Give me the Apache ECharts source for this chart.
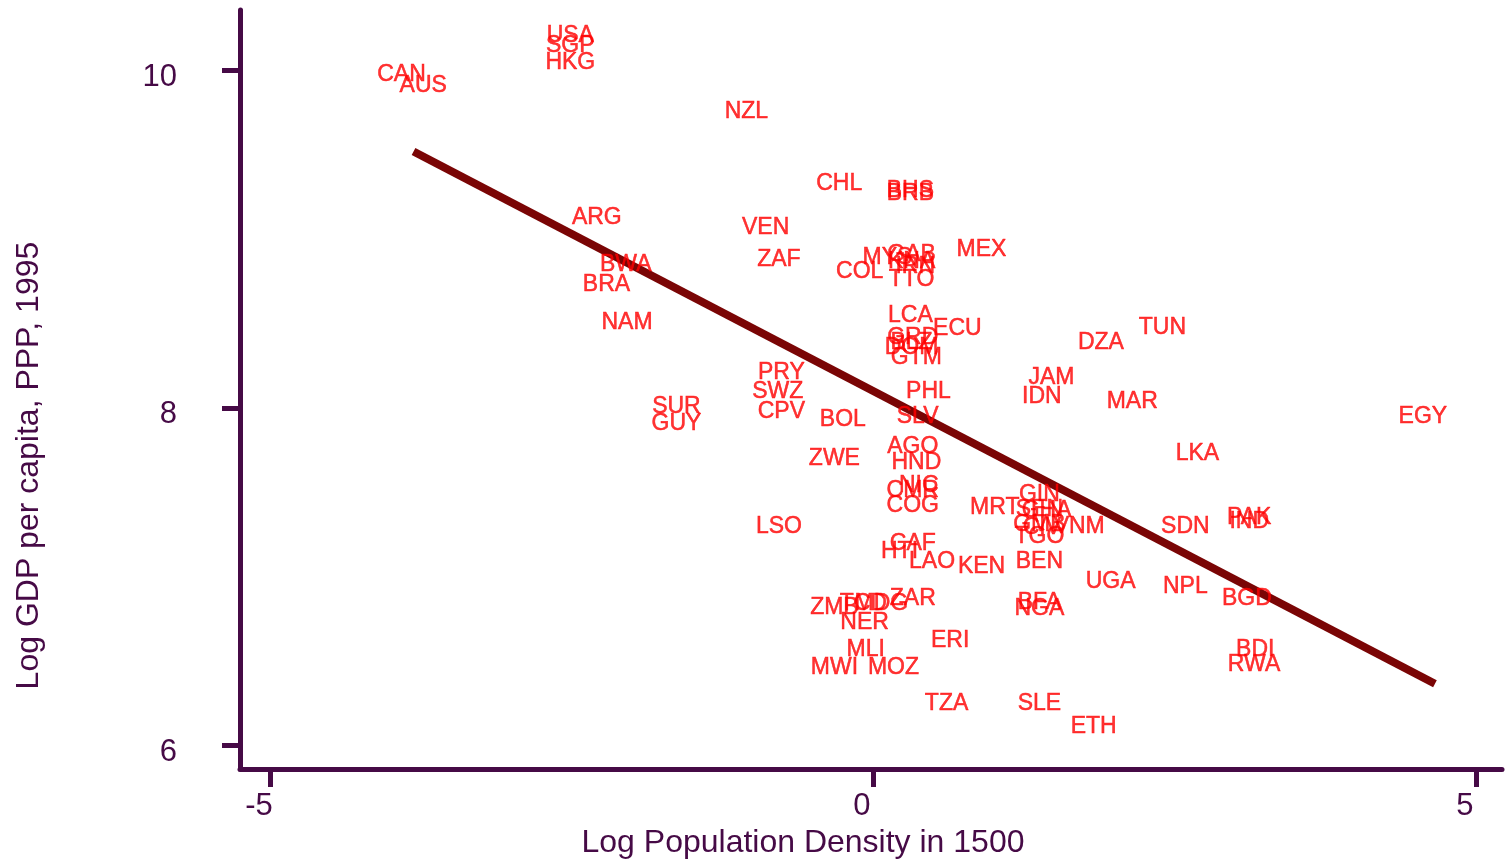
<!DOCTYPE html>
<html><head><meta charset="utf-8">
<script src="https://cdn.jsdelivr.net/npm/echarts@6/dist/echarts.min.js"></script>
<style>html,body{margin:0;padding:0;background:#fff}#c{width:1506px;height:864px}</style>
</head><body><div id="c"></div>
<script>
const codes = ["USA","SGP","HKG","CAN","AUS","NZL","CHL","BHS","BRB","ARG","VEN","MEX","MYS","GAB","KNA","IRN","TTO","COL","ZAF","BWA","BRA","NAM","LCA","ECU","GRD","BLZ","DOM","GTM","DZA","TUN","PRY","JAM","SWZ","PHL","IDN","MAR","SUR","CPV","EGY","GUY","BOL","SLV","AGO","LKA","ZWE","HND","NIC","CMR","COG","GIN","MRT","SEN","GHA","GMB","CIV","TGO","VNM","LSO","SDN","PAK","IND","CAF","HTI","LAO","KEN","BEN","UGA","NPL","BGD","ZAR","TCD","ZMB","MDG","NER","BFA","NGA","ERI","MLI","BDI","RWA","MWI","MOZ","TZA","SLE","ETH"];
const popDensity = [-2.51,-2.51,-2.51,-3.91,-3.73,-1.05,-0.28,0.31,0.31,-2.29,-0.89,0.90,0.12,0.32,0.32,0.35,0.32,-0.11,-0.78,-2.05,-2.21,-2.04,0.31,0.70,0.33,0.32,0.32,0.36,1.89,2.40,-0.76,1.48,-0.79,0.46,1.40,2.15,-1.63,-0.76,4.56,-1.63,-0.25,0.37,0.33,2.69,-0.32,0.36,0.38,0.33,0.33,1.38,1.01,1.38,1.44,1.38,1.40,1.38,1.71,-0.78,2.59,3.12,3.12,0.33,0.22,0.49,0.90,1.38,1.97,2.59,3.10,0.33,-0.08,-0.32,0.07,-0.07,1.38,1.38,0.64,-0.06,3.17,3.16,-0.32,0.17,0.61,1.38,1.83];
const logGdp = [10.22,10.16,10.06,9.99,9.92,9.77,9.34,9.30,9.28,9.14,9.08,8.95,8.90,8.92,8.88,8.85,8.77,8.82,8.89,8.86,8.74,8.52,8.56,8.48,8.43,8.40,8.37,8.31,8.40,8.49,8.22,8.19,8.11,8.11,8.08,8.05,8.02,7.99,7.96,7.92,7.94,7.96,7.78,7.74,7.71,7.69,7.55,7.52,7.43,7.50,7.42,7.41,7.40,7.32,7.30,7.25,7.31,7.31,7.31,7.36,7.34,7.21,7.16,7.10,7.07,7.10,6.98,6.95,6.88,6.88,6.85,6.83,6.85,6.74,6.86,6.82,6.63,6.58,6.58,6.49,6.47,6.47,6.26,6.26,6.12];
const fitX = [-3.81, 4.66];
const fitY = [9.52, 6.365];
const xTicks = [-5, 0, 5];
const yTicks = [6, 8, 10];

const axisCol = '#460a46';
const pts = codes.map((c, i) => ({ name: c, value: [popDensity[i], logGdp[i]] }));
const fit = fitX.map((x, i) => [x, fitY[i]]);

const chart = echarts.init(document.getElementById('c'));
chart.setOption({
  animation: false,
  grid: { left: 240, right: 4, top: 10, bottom: 89 },
  xAxis: {
    type: 'value', min: -5.249, max: 5.216,
    name: 'Log Population Density in 1500', nameLocation: 'middle', nameGap: 56,
    nameTextStyle: { color: axisCol, fontSize: 32, fontFamily: 'Liberation Sans, Arial', padding: [0, 136, 0, 0] },
    axisLine: { show: true, onZero: false, lineStyle: { color: axisCol, width: 5 } },
    axisTick: { show: true, length: 18, lineStyle: { color: axisCol, width: 5 }, customValues: xTicks },
    axisLabel: { color: axisCol, fontSize: 31, fontFamily: 'Liberation Sans, Arial', margin: 22, customValues: xTicks, padding: [0, 22, 0, 0] },
    splitLine: { show: false }
  },
  yAxis: {
    type: 'value', min: 5.859, max: 10.359,
    name: 'Log GDP per capita, PPP, 1995', nameLocation: 'middle', nameGap: 195,
    nameTextStyle: { color: axisCol, fontSize: 32, fontFamily: 'Liberation Sans, Arial', padding: [0, 152, 0, 0] },
    axisLine: { show: true, onZero: false, lineStyle: { color: axisCol, width: 5 } },
    axisTick: { show: true, length: 18, lineStyle: { color: axisCol, width: 5 }, customValues: yTicks },
    axisLabel: { color: axisCol, fontSize: 31, fontFamily: 'Liberation Sans, Arial', margin: 63, customValues: yTicks, verticalAlign: 'top', lineHeight: 14 },
    splitLine: { show: false }
  },
  series: [
    {
      type: 'line', data: fit, symbol: 'none', silent: true,
      lineStyle: { color: '#7a0505', width: 8, cap: 'butt' }, z: 1
    },
    {
      type: 'scatter', data: pts, symbolSize: 0, z: 2,
      label: { show: true, position: 'inside', offset: [0, 2], formatter: p => p.name, color: '#ff0000', fontSize: 23, fontFamily: 'Liberation Sans, Arial', textBorderColor: '#ff0000', textBorderWidth: 0.5 }
    }
  ]
});
</script></body></html>
